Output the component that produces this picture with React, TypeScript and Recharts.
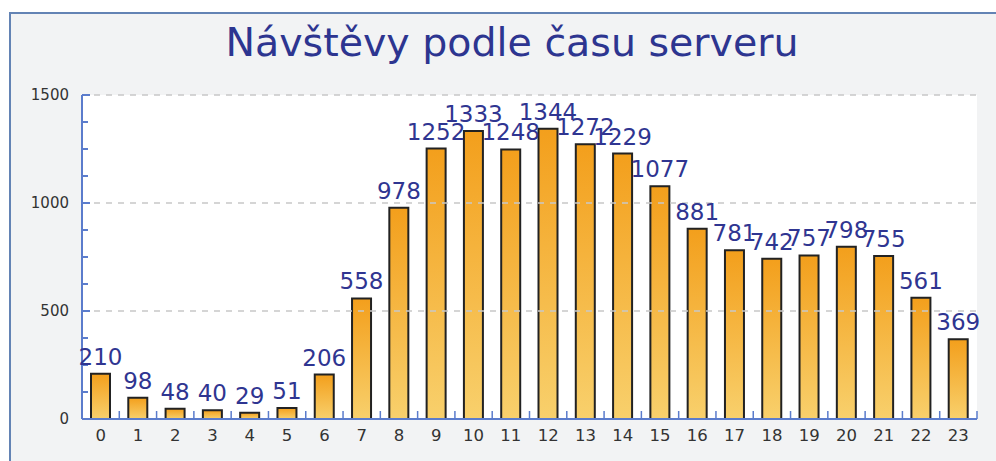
import { Bar, BarChart, CartesianGrid, LabelList, ReferenceLine, XAxis, YAxis } from "recharts";

const hours = ["0", "1", "2", "3", "4", "5", "6", "7", "8", "9", "10", "11", "12", "13", "14", "15", "16", "17", "18", "19", "20", "21", "22", "23"];
const visits = [210, 98, 48, 40, 29, 51, 206, 558, 978, 1252, 1333, 1248, 1344, 1272, 1229, 1077, 881, 781, 742, 757, 798, 755, 561, 369];
const yTicks = [0, 125, 250, 375, 500, 625, 750, 875, 1000, 1125, 1250, 1375, 1500];
const gridValues = [500, 1000, 1500];
const title = "Návštěvy podle času serveru";

const data = hours.map((h, i) => ({ hour: h, visits: visits[i] }));

// layout
const W = 996;
const H = 461;
const PLOT_LEFT = 82;
const PLOT_RIGHT = 977;
const BAND = (PLOT_RIGHT - PLOT_LEFT) / hours.length;
const AXIS_BLUE = "#5b7ccc";
const TICK_TEXT = "#333";
const LABEL_BLUE = "#2f3591";
const FONT = "'DejaVu Sans', sans-serif";

function YTick(props: any) {
  const { x, y, payload } = props;
  const major = payload.value % 500 === 0;
  return (
    <g>
      {payload.value !== 0 && (
        <line x1={x} x2={x + (major ? 8 : 6)} y1={y} y2={y} stroke={AXIS_BLUE} strokeWidth={2} />
      )}
      {major && (
        <text x={x - 13} y={y} dy="0.35em" textAnchor="end" fontSize={15} fill={TICK_TEXT} fontFamily={FONT}>
          {payload.value}
        </text>
      )}
    </g>
  );
}

function XTick(props: any) {
  const { x, y, payload, index } = props;
  const left = x - BAND / 2;
  return (
    <g>
      <line x1={left} x2={left} y1={y} y2={y - 8} stroke={AXIS_BLUE} strokeWidth={1.5} />
      {index === hours.length - 1 && (
        <line x1={x + BAND / 2} x2={x + BAND / 2} y1={y} y2={y - 8} stroke={AXIS_BLUE} strokeWidth={1.5} />
      )}
      <text x={x} y={y + 22} textAnchor="middle" fontSize={16.5} fill={TICK_TEXT} fontFamily={FONT}>
        {payload.value}
      </text>
    </g>
  );
}

export default function App() {
  return (
    <div style={{ position: "absolute", left: 0, top: 0, width: W, height: H, overflow: "hidden", background: "#fff" }}>
      <div
        style={{
          position: "absolute",
          left: 9,
          top: 12,
          width: 1010,
          height: 480,
          background: "#f2f3f4",
          borderLeft: "2px solid #6383b4",
          borderTop: "2px solid #6383b4",
        }}
      />
      <div
        style={{
          position: "absolute",
          left: 0,
          width: 1024,
          top: 18,
          textAlign: "center",
          fontFamily: FONT,
          fontSize: 39.5,
          color: "#2d3590",
          lineHeight: "48px",
          whiteSpace: "nowrap",
        }}
      >
        {title}
      </div>
      <div style={{ position: "absolute", left: 0, top: 0 }}>
        <BarChart
          width={W}
          height={H}
          data={data}
          margin={{ top: 95, right: W - PLOT_RIGHT, bottom: 12, left: 0 }}
          barSize={19}
        >
          <defs>
            <linearGradient id="barFill" x1="0" y1="0" x2="0" y2="1">
              <stop offset="0%" stopColor="#f39f1c" />
              <stop offset="100%" stopColor="#f8d06c" />
            </linearGradient>
          </defs>
          <CartesianGrid horizontal={false} vertical={false} fill="#ffffff" />
          {gridValues.map((v) => (
            <ReferenceLine key={v} y={v} stroke="#c8c8c8" strokeDasharray="6 6" strokeWidth={1.5} />
          ))}
          <XAxis
            dataKey="hour"
            height={30}
            interval={0}
            tickSize={0}
            tickMargin={0}
            tick={<XTick />}
            axisLine={{ stroke: AXIS_BLUE, strokeWidth: 2 }}
          />
          <YAxis
            width={PLOT_LEFT}
            domain={[0, 1500]}
            ticks={yTicks}
            interval={0}
            tickSize={0}
            tickMargin={0}
            tick={<YTick />}
            axisLine={{ stroke: AXIS_BLUE, strokeWidth: 2 }}
          />
          <Bar dataKey="visits" fill="url(#barFill)" stroke="#222" strokeWidth={2} isAnimationActive={false}>
            <LabelList
              dataKey="visits"
              position="top"
              offset={9}
              fill={LABEL_BLUE}
              fontSize={23}
              fontFamily={FONT}
            />
          </Bar>
        </BarChart>
      </div>
    </div>
  );
}
